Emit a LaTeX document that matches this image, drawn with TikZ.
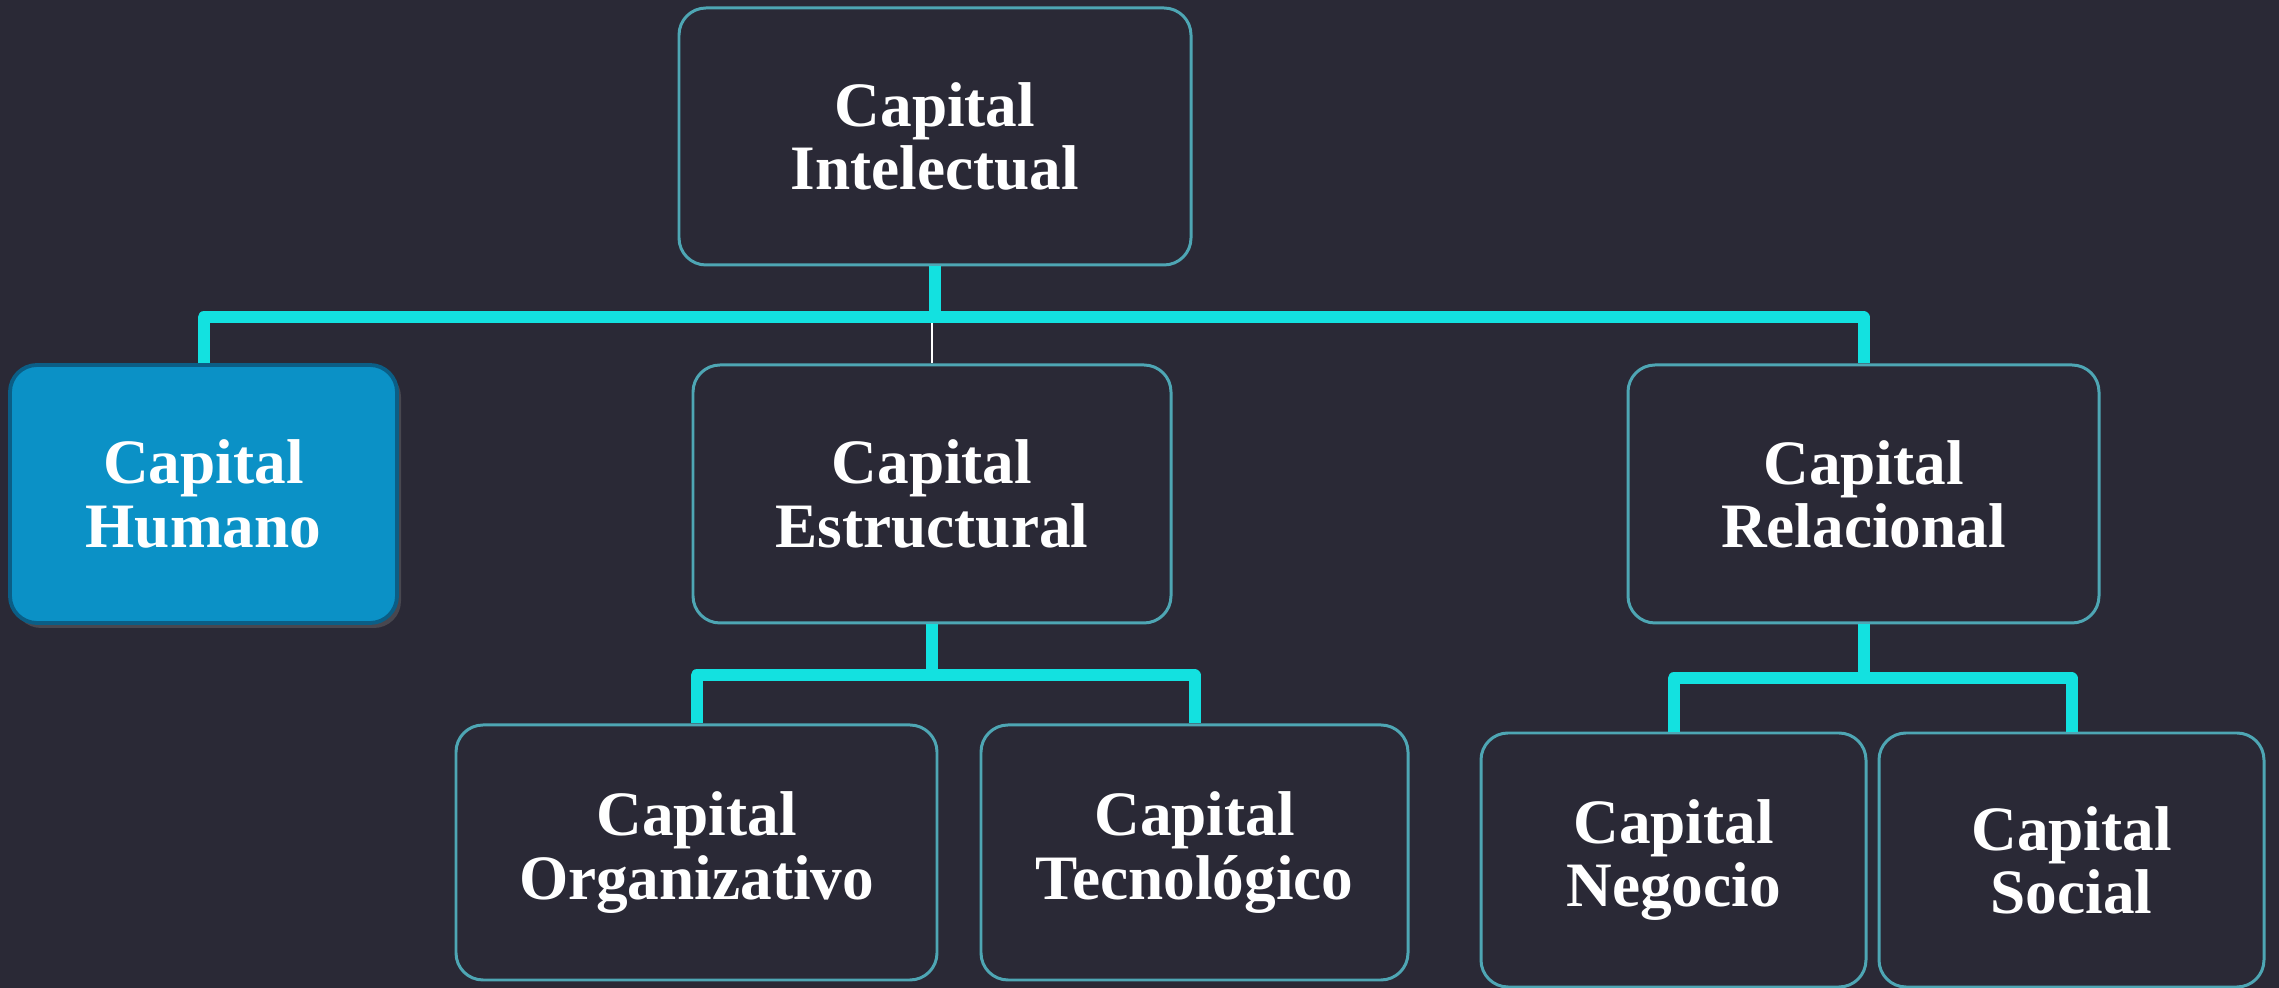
\documentclass[tikz,border=0pt]{standalone}
\usepackage{fontspec}
\setmainfont{Liberation Serif}
\usetikzlibrary{shadows}
\definecolor{bgcol}{RGB}{42,41,54}
\definecolor{linkcol}{RGB}{19,225,224}
\definecolor{edgecol}{RGB}{78,166,180}
\definecolor{humfill}{RGB}{11,145,198}
\definecolor{humedge}{RGB}{11,94,134}
\tikzset{
	capbox/.style={draw=edgecol,fill=bgcol,line width=0.85pt,rounded corners=0.27cm,
		inner sep=0pt,align=center,text=white,
		font=\bfseries\fontsize{18pt}{18pt}\selectfont},
	humbox/.style={capbox,draw=humedge,fill=humfill,line width=1.1pt,
		drop shadow={opacity=0.35,shadow xshift=0.04,shadow yshift=-0.05}},
	link/.style={draw=linkcol,line width=0.12cm,line join=round},
	tick/.style={draw=white,line width=0.5pt}
}
\begin{document}
\begin{tikzpicture}
		\useasboundingbox (0,0) rectangle (22.79,-9.88);
		\fill[bgcol] (0,0) rectangle (22.79,-9.88);

		\node[capbox,minimum width=5.12cm,minimum height=2.57cm] (ci) at (9.35,-1.365) {Capital\\Intelectual};
		\node[humbox,minimum width=3.87cm,minimum height=2.58cm] (ch) at (2.035,-4.94) {Capital\\Humano};
		\node[capbox,minimum width=4.78cm,minimum height=2.58cm] (ce) at (9.32,-4.94) {Capital\\Estructural};
		\node[capbox,minimum width=4.71cm,minimum height=2.58cm] (cr) at (18.635,-4.94) {Capital\\Relacional};
		\node[capbox,minimum width=4.81cm,minimum height=2.55cm] (co) at (6.965,-8.525) {Capital\\Organizativo};
		\node[capbox,minimum width=4.27cm,minimum height=2.55cm] (ct) at (11.945,-8.525) {Capital\\Tecnológico};
		\node[capbox,minimum width=3.85cm,minimum height=2.54cm] (cn) at (16.735,-8.60) {Capital\\Negocio};
		\node[capbox,minimum width=3.85cm,minimum height=2.54cm] (cs) at (20.715,-8.60) {Capital\\Social};

		\draw[link] (ci.south) -- ++(0,-0.51) coordinate (b1);
		\draw[link] (ch.north) |- (b1) -| (cr.north);
		\draw[tick] (ce.north) -- ([yshift=-0.06cm]ce.north |- b1);

		\draw[link] (ce.south) -- ++(0,-0.51) coordinate (b2);
		\draw[link] (co.north) |- (b2) -| (ct.north);

		\draw[link] (cr.south) -- ++(0,-0.54) coordinate (b3);
		\draw[link] (cn.north) |- (b3) -| (cs.north);
		\end{tikzpicture}
\end{document}
